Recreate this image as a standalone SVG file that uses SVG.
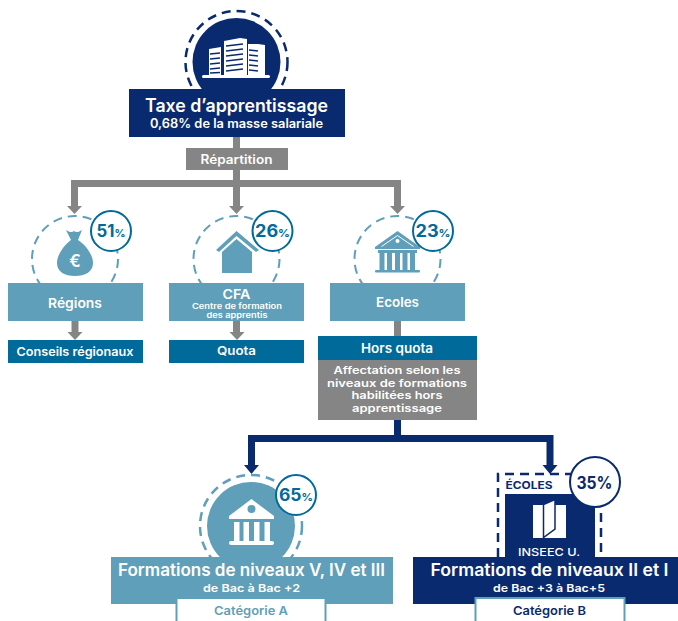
<svg xmlns="http://www.w3.org/2000/svg" width="678" height="621" viewBox="0 0 678 621">
<style>
text{font-family:"Inter","Liberation Sans",sans-serif;font-weight:600;text-anchor:middle;fill:#fff}
.navy{fill:#0a2a70}.lb{fill:#5f9fb9}.teal{fill:#006a9b}.gr{fill:#858585}
.dl{fill:none;stroke:#5f9fb9;stroke-width:2;stroke-dasharray:9 6}
.dn{fill:none;stroke:#0a2a70;stroke-width:2.5;stroke-dasharray:9 6}
.pc{fill:#fff;stroke:#006a9b;stroke-width:2}
text.pt{fill:#006a9b;font-weight:700}
.cg{fill:none;stroke:#858585;stroke-width:7}
.cn{fill:none;stroke:#0a2a70;stroke-width:7}
</style>
<g id="connectors">
<path class="cg" d="M236.500 137V148M236.500 170V206M74.500 206V183.500H397.500V206"/>
<path class="gr" d="M67 206H82L74.500 214ZM229 206H244L236.500 214ZM390 206H405L397.500 214Z"/>
<path class="cg" d="M75 321V334M236.500 321V334"/>
<path class="gr" d="M67.500 332H82.500L75 340ZM229.500 332H244.500L237 340Z"/>
<path class="cg" d="M397.500 321V336"/>
<path class="cn" d="M397.500 420V438.500H251.500V466M397.500 438.500H550V466"/>
<path class="navy" d="M244 465H259L251.500 474ZM542.500 465H557.500L550 474Z"/>
</g>
<g id="node-taxe">
<circle cx="236.500" cy="62" r="51" class="dn"/><circle cx="236.500" cy="62" r="44" class="navy"/>
<g fill="#fff"><rect x="202" y="75" width="68" height="3" rx="1.500"/><path d="M209 49 221 47V75H209ZM224 41 240 38 247 39V75H224ZM248 44 258 44 265 45V75H248Z"/></g>
<path stroke="#0a2a70" stroke-width="1.500" fill="none" d="M210 54 220 53M210 59 220 58M210 64 220 63M210 69 220 68M210 73 220 72.500M226 46 243 44M226 51 243 49M226 56 243 54M226 61 243 59M226 66 243 64M226 71 243 69M249 50 258 51M249 55 258 56M249 60 258 61M249 65 258 66M249 70 258 71"/>
<rect x="129" y="89" width="216" height="48" class="navy"/>
<text x="236.500" y="112" font-size="18" textLength="183" lengthAdjust="spacingAndGlyphs">Taxe d’apprentissage</text>
<text x="236.500" y="128" font-size="12.500" textLength="173" lengthAdjust="spacingAndGlyphs">0,68% de la masse salariale</text>
</g>
<g id="node-repartition"><rect x="186" y="148" width="102" height="22" class="gr"/><text x="236.500" y="163.500" font-size="12.500" textLength="72" lengthAdjust="spacingAndGlyphs">Répartition</text></g>
<g id="node-regions">
<circle cx="75" cy="259" r="43" class="dl"/>
<path class="lb" d="M66 230C69 232 72 233 74 231 76 233 79 232 82 230L78 240C86 245 93 255 93 263 93 272 85 276 75 276 65 276 57 272 57 263 57 255 64 245 71 240Z"/>
<text x="75" y="267" font-size="17" font-weight="700">€</text>
<circle cx="111" cy="231" r="20" class="pc"/><text x="111" y="237" font-size="17" class="pt" textLength="29" lengthAdjust="spacingAndGlyphs">51<tspan font-size="11">%</tspan></text>
<rect x="8" y="283" width="135" height="38" class="lb"/><text x="75" y="308" font-size="13.500" textLength="54" lengthAdjust="spacingAndGlyphs">Régions</text>
</g>
<g id="node-conseils"><rect x="8" y="340" width="135" height="23" class="teal"/><text x="75" y="356" font-size="12" textLength="117" lengthAdjust="spacingAndGlyphs">Conseils régionaux</text></g>
<g id="node-cfa">
<circle cx="236.500" cy="259" r="43" class="dl"/>
<path class="lb" d="M236.500 231 259 250 256 252 236.500 236 219 252 216 250Z"/><path class="lb" d="M236.500 239 252 252V273H222V252Z"/>
<circle cx="272.500" cy="231" r="20" class="pc"/><text x="272.500" y="237" font-size="17" class="pt" textLength="35" lengthAdjust="spacingAndGlyphs">26<tspan font-size="11">%</tspan></text>
<rect x="169" y="283" width="135" height="38" class="lb"/>
<text x="236.500" y="298.500" font-size="13" textLength="28" lengthAdjust="spacingAndGlyphs">CFA</text>
<text x="237" y="308.500" font-size="7.500" textLength="90" lengthAdjust="spacingAndGlyphs">Centre de formation</text>
<text x="237" y="317.500" font-size="7.500" textLength="61" lengthAdjust="spacingAndGlyphs">des apprentis</text>
</g>
<g id="node-quota"><rect x="169" y="340" width="135" height="23" class="teal"/><text x="236.500" y="355" font-size="12" textLength="39" lengthAdjust="spacingAndGlyphs">Quota</text></g>
<g id="node-ecoles">
<circle cx="397.500" cy="259" r="43" class="dl"/>
<g class="lb"><path d="M397.500 231 420 247V249H375V247Z"/><rect x="378" y="250" width="39" height="3"/><rect x="379.500" y="253" width="5" height="17"/><rect x="387" y="253" width="5" height="17"/><rect x="395" y="253" width="5" height="17"/><rect x="402.500" y="253" width="5" height="17"/><rect x="410" y="253" width="5" height="17"/><rect x="375" y="270" width="45" height="2.500" rx="1"/></g>
<path d="M381.500 246.500 397.500 235.500 413.500 246.500" fill="none" stroke="#fff"/><circle cx="397.500" cy="241" r="2" fill="#fff"/>
<circle cx="433" cy="231" r="20" class="pc"/><text x="433" y="237" font-size="17" class="pt" textLength="35" lengthAdjust="spacingAndGlyphs">23<tspan font-size="11">%</tspan></text>
<rect x="330" y="283" width="135" height="38" class="lb"/><text x="397.500" y="307" font-size="13.500" textLength="43" lengthAdjust="spacingAndGlyphs">Ecoles</text>
</g>
<g id="node-hors-quota">
<rect x="318" y="336" width="159" height="24" class="teal"/><text x="397" y="352.500" font-size="13" textLength="72" lengthAdjust="spacingAndGlyphs">Hors quota</text>
<rect x="318" y="360" width="159" height="60" class="gr"/>
<text x="397" y="374" font-size="10.500" textLength="127" lengthAdjust="spacingAndGlyphs">Affectation selon les</text>
<text x="397" y="386.500" font-size="10.500" textLength="140" lengthAdjust="spacingAndGlyphs">niveaux de formations</text>
<text x="397" y="399" font-size="10.500" textLength="91" lengthAdjust="spacingAndGlyphs">habilitées hors</text>
<text x="397" y="411.500" font-size="10.500" textLength="90" lengthAdjust="spacingAndGlyphs">apprentissage</text>
</g>
<g id="node-niveaux-a">
<circle cx="251" cy="526" r="51" class="dl" style="stroke-width:2.500"/><circle cx="251" cy="526" r="44" class="lb"/>
<g fill="#fff"><path d="M251.500 499 274 516V519H229V516Z"/><rect x="234" y="522" width="5.500" height="19"/><rect x="243.500" y="522" width="5.500" height="19"/><rect x="254" y="522" width="5.500" height="19"/><rect x="264.500" y="522" width="5.500" height="19"/><rect x="229" y="541" width="45" height="4" rx="2"/></g>
<circle cx="251.500" cy="509" r="4" class="lb"/>
<circle cx="296" cy="495" r="20" class="pc"/><text x="296" y="501" font-size="17" class="pt" textLength="34" lengthAdjust="spacingAndGlyphs">65<tspan font-size="11">%</tspan></text>
<rect x="111" y="557" width="282" height="47" class="lb"/>
<text x="251.500" y="576" font-size="17" textLength="267" lengthAdjust="spacingAndGlyphs">Formations de niveaux V, IV et III</text>
<text x="251.500" y="592" font-size="11" textLength="97" lengthAdjust="spacingAndGlyphs">de Bac à Bac +2</text>
<rect x="176.500" y="598" width="149" height="26" fill="#fff" stroke="#5f9fb9" stroke-width="2"/>
<text x="251" y="615" font-size="12" style="fill:#5f9fb9" textLength="74" lengthAdjust="spacingAndGlyphs">Catégorie A</text>
</g>
<g id="node-niveaux-b">
<path class="dn" d="M498 557V474H601V557"/>
<text x="529" y="489" font-size="10.500" style="fill:#0a2a70;font-weight:700" textLength="47" lengthAdjust="spacingAndGlyphs">ÉCOLES</text>
<rect x="505" y="494" width="90" height="63" class="navy"/>
<rect x="533" y="505" width="33" height="33" fill="#fff"/>
<path d="M543.500 504.500 555 499.500V529L543.500 537.500Z" fill="#fff" stroke="#0a2a70" stroke-width="1.500"/>
<text x="549" y="556" font-size="11" style="font-weight:500" textLength="62" lengthAdjust="spacingAndGlyphs">INSEEC U.</text>
<circle cx="595" cy="482" r="25" fill="#fff" stroke="#0a2a70" stroke-width="2"/>
<text x="594.500" y="489" font-size="17" style="fill:#0a2a70;font-weight:700" textLength="36" lengthAdjust="spacingAndGlyphs">35%</text>
<rect x="413" y="557" width="265" height="47" class="navy"/>
<text x="549.500" y="576" font-size="17" textLength="238" lengthAdjust="spacingAndGlyphs">Formations de niveaux II et I</text>
<text x="549" y="592" font-size="11" textLength="112" lengthAdjust="spacingAndGlyphs">de Bac +3 à Bac+5</text>
<rect x="475.500" y="598" width="149" height="26" fill="#fff" stroke="#5f9fb9" stroke-width="2"/>
<text x="549.500" y="615" font-size="12" style="fill:#0a2a70" textLength="73" lengthAdjust="spacingAndGlyphs">Catégorie B</text>
</g>
</svg>
